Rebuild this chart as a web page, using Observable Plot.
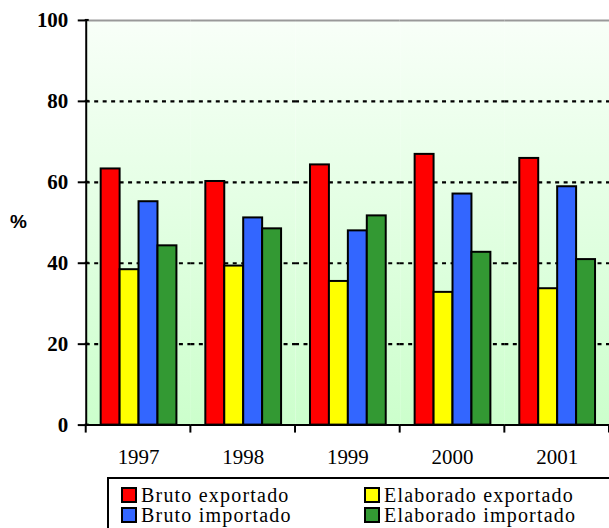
<!DOCTYPE html>
<html><head><meta charset="utf-8">
<script src="https://cdn.jsdelivr.net/npm/d3@7"></script>
<script src="https://cdn.jsdelivr.net/npm/@observablehq/plot@0.6"></script>
<style>
html,body{margin:0;padding:0;background:#fff;overflow:hidden;width:609px;height:528px;}
#wrap{position:relative;width:609px;height:528px;overflow:hidden;}
#chart{position:absolute;left:0;top:0;}
#pct{position:absolute;left:10px;top:211px;font:bold 19px "Liberation Sans",sans-serif;}
#legend{position:absolute;left:107px;top:477px;width:540px;height:70px;border:2px solid #000;box-sizing:border-box;background:#fff}
.item{position:absolute;font:20px "Liberation Serif",serif;display:flex;align-items:center;white-space:nowrap;line-height:18px;height:18px;letter-spacing:1.2px}
.sw{width:12px;height:12px;border:2px solid #000;margin-right:4px;flex:none}
</style>
</head>
<body>
<div id="wrap">
  <div id="chart"></div>
  <div id="pct">%</div>
  <div id="legend"></div>
</div>
<script>
const years = ["1997", "1998", "1999", "2000", "2001"];
const series = ["Bruto exportado", "Elaborado exportado", "Bruto importado", "Elaborado importado"];
const colors = ["#ff0000", "#ffff00", "#3366ff", "#339933"];
const brutoExportado = [63.3, 60.2, 64.3, 66.9, 65.9];
const elaboradoExportado = [38.4, 39.3, 35.5, 32.8, 33.7];
const brutoImportado = [55.2, 51.2, 48.0, 57.1, 58.9];
const elaboradoImportado = [44.3, 48.5, 51.7, 42.7, 40.9];
const yTicks = [0, 20, 40, 60, 80, 100];
const gridTicks = [20, 40, 60, 80];

const values = [brutoExportado, elaboradoExportado, brutoImportado, elaboradoImportado];
const data = years.flatMap((yr, i) => series.map((s, j) => ({year: yr, series: s, value: values[j][i]})));

const chart = Plot.plot({
  width: 611, height: 470,
  marginLeft: 85, marginRight: 0, marginTop: 20, marginBottom: 44,
  style: {background: "transparent", overflow: "visible"},
  fx: {domain: years, padding: 0, axis: null},
  x: {domain: series, paddingInner: 0, paddingOuter: 0.7, axis: null},
  y: {domain: [0, 100], axis: null},
  color: {domain: series, range: colors},
  marks: [
    Plot.frame({fill: "url(#bg)", stroke: "none"}),
    Plot.ruleY(gridTicks, {stroke: "#000", strokeWidth: 2.2, strokeDasharray: "4,4.5"}),
    Plot.ruleY([100], {stroke: "#999", strokeWidth: 2}),
    Plot.barY(data, {fx: "year", x: "series", y: "value", fill: "series", stroke: "#000", strokeWidth: 2}),
    Plot.ruleY([0], {stroke: "#000", strokeWidth: 2}),
    Plot.frame({anchor: "left", stroke: "#000", strokeWidth: 2, facetAnchor: "left"}),
    Plot.axisY({ticks: yTicks, tickSize: 8, tickPadding: 10, strokeWidth: 2, fontSize: 21, fontWeight: "bold", fontFamily: "Liberation Serif", label: null}),
    Plot.axisFx({anchor: "bottom", tickSize: 0, tickPadding: 24, fontSize: 21, fontFamily: "Liberation Serif", label: null})
  ]
});

const svg = d3.select(chart);
const grad = svg.insert("defs", ":first-child").append("linearGradient")
  .attr("id", "bg").attr("x1", 0).attr("y1", 0).attr("x2", 0).attr("y2", 1);
grad.append("stop").attr("offset", "0%").attr("stop-color", "#f8fff8");
grad.append("stop").attr("offset", "100%").attr("stop-color", "#ccffcc");

const fx = chart.scale("fx");
const ys = chart.scale("y");
const y0 = ys.apply(0);
const bounds = years.map(d => fx.apply(d)).concat([fx.apply(years[years.length - 1]) + fx.step]);
svg.append("g").selectAll("line").data(bounds).join("line")
  .attr("x1", d => d).attr("x2", d => d)
  .attr("y1", y0).attr("y2", y0 + 8)
  .attr("stroke", "#000").attr("stroke-width", 2);
// small inward tick extension on the y axis
svg.append("g").selectAll("line").data(yTicks).join("line")
  .attr("x1", 85).attr("x2", 89)
  .attr("y1", d => ys.apply(d)).attr("y2", d => ys.apply(d))
  .attr("stroke", "#000").attr("stroke-width", 2);

document.getElementById("chart").appendChild(chart);

const legend = document.getElementById("legend");
const pos = [[12, 7], [255, 7], [12, 27], [255, 27]];
series.forEach((s, i) => {
  const it = document.createElement("div");
  it.className = "item";
  it.style.left = pos[i][0] + "px";
  it.style.top = pos[i][1] + "px";
  const sw = document.createElement("span");
  sw.className = "sw";
  sw.style.background = colors[i];
  it.appendChild(sw);
  it.appendChild(document.createTextNode(s));
  legend.appendChild(it);
});
</script>
</body></html>
